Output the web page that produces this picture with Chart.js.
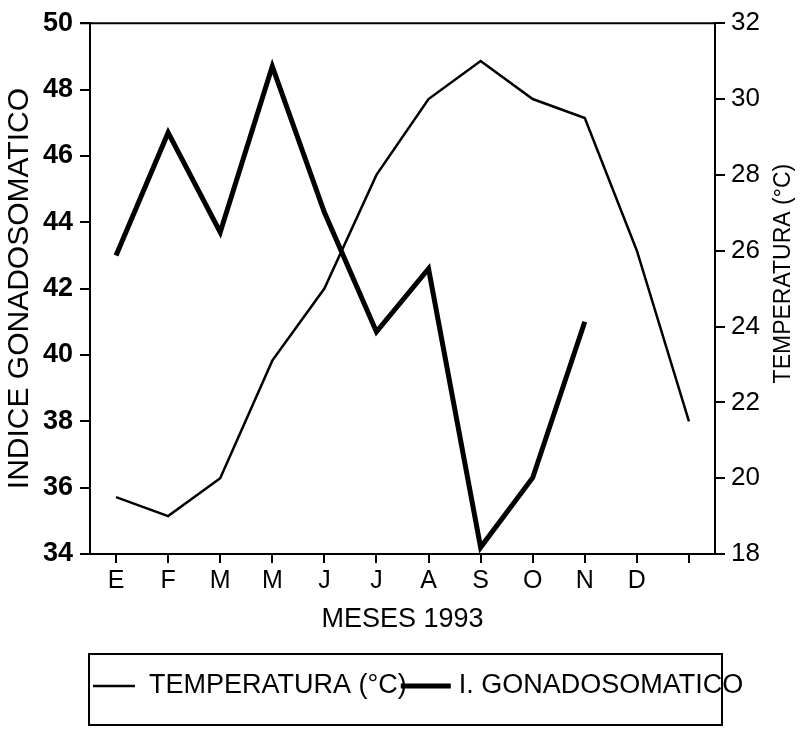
<!DOCTYPE html>
<html><head><meta charset="utf-8">
<script src="https://cdn.jsdelivr.net/npm/chart.js@4.4.1/dist/chart.umd.min.js"></script>
<style>html,body{margin:0;padding:0;background:#fff;}#wrap{width:801px;height:735px;position:relative;}</style>
</head><body><div id="wrap"><canvas id="c" width="801" height="735"></canvas></div>
<script>
const months = ['E','F','M','M','J','J','A','S','O','N','D',''];
const temperatura = [19.5,19.0,20.0,23.1,25.0,28.0,30.0,31.0,30.0,29.5,26.0,21.5];
const gonadosomatico = [43.0,46.7,43.7,48.7,44.3,40.7,42.6,34.2,36.3,41.0,null,null];
const leftTicks = [34,36,38,40,42,44,46,48,50];
const rightTicks = [18,20,22,24,26,28,30,32];
const labelTemp = 'TEMPERATURA (°C)';
const labelIgs = 'I. GONADOSOMATICO';
const FF = "'Liberation Sans', Arial, sans-serif";

const framePlugin = {
  id: 'frame',
  afterDraw(chart) {
    const ctx = chart.ctx, a = chart.chartArea;
    ctx.save();
    ctx.strokeStyle = '#000';
    ctx.lineWidth = 2;
    ctx.beginPath();
    ctx.moveTo(a.left - 10, a.top);
    ctx.lineTo(a.right, a.top);
    ctx.stroke();
    // right axis title, reading bottom to top
    ctx.fillStyle = '#000';
    ctx.font = '23px ' + FF;
    ctx.textAlign = 'center';
    ctx.textBaseline = 'middle';
    ctx.translate(784, (a.top + a.bottom) / 2 - 15);
    ctx.rotate(-Math.PI / 2);
    ctx.fillText(labelTemp, 0, 0);
    ctx.restore();

    // legend box
    ctx.save();
    ctx.strokeStyle = '#000';
    ctx.lineWidth = 2;
    ctx.strokeRect(89, 654, 722 - 89, 725 - 654);
    const ds = chart.data.datasets;
    const ly = 686;
    ctx.font = '27px ' + FF;
    ctx.fillStyle = '#000';
    ctx.textBaseline = 'middle';
    ctx.textAlign = 'left';
    let x = 93;
    ctx.lineWidth = ds[0].borderWidth;
    ctx.beginPath(); ctx.moveTo(x, ly); ctx.lineTo(x + 42, ly); ctx.stroke();
    x += 42 + 14;
    ctx.fillText(ds[0].label, x, ly);
    x += ctx.measureText(ds[0].label).width - 6;
    ctx.lineWidth = ds[1].borderWidth;
    ctx.beginPath(); ctx.moveTo(x, ly); ctx.lineTo(x + 50, ly); ctx.stroke();
    x += 50 + 8;
    ctx.fillText(ds[1].label, x, ly);
    ctx.restore();
  }
};

new Chart(document.getElementById('c'), {
  type: 'line',
  data: {
    labels: months,
    datasets: [
      { label: labelTemp, data: temperatura, yAxisID: 'y1', borderColor: '#000', backgroundColor: '#000', borderWidth: 2.5, pointRadius: 0, tension: 0, fill: false },
      { label: labelIgs, data: gonadosomatico, yAxisID: 'y', borderColor: '#000', backgroundColor: '#000', borderWidth: 5, pointRadius: 0, tension: 0, fill: false }
    ]
  },
  options: {
    responsive: false,
    animation: false,
    devicePixelRatio: 1,
    layout: { padding: { top: 22, bottom: 95, left: 0, right: 0 } },
    plugins: { legend: { display: false }, tooltip: { enabled: false } },
    scales: {
      x: {
        type: 'category',
        offset: true,
        grid: { display: true, offset: false, drawOnChartArea: false, drawTicks: true, tickLength: 9, color: '#000', lineWidth: 2 },
        border: { display: true, color: '#000', width: 2 },
        ticks: { color: '#000', font: { family: FF, size: 25 }, padding: 3, autoSkip: false, maxRotation: 0, minRotation: 0 },
        title: { display: true, text: 'MESES 1993', color: '#000', font: { family: FF, size: 27 }, padding: { top: 4, bottom: 4 } },
        afterFit(s) { s.height = 86; }
      },
      y: {
        position: 'left',
        min: leftTicks[0], max: leftTicks[leftTicks.length - 1],
        afterBuildTicks(s) { s.ticks = leftTicks.map(v => ({ value: v })); },
        grid: { display: true, drawOnChartArea: false, drawTicks: true, tickLength: 10, color: '#000', lineWidth: 2 },
        border: { display: true, color: '#000', width: 2 },
        ticks: { color: '#000', font: { family: FF, size: 27, weight: 'bold' }, padding: 7 },
        title: { display: true, text: 'INDICE GONADOSOMATICO', color: '#000', font: { family: FF, size: 30 }, padding: { top: 2, bottom: 2 } },
        afterFit(s) { s.width = 90; }
      },
      y1: {
        position: 'right',
        min: rightTicks[0], max: rightTicks[rightTicks.length - 1],
        afterBuildTicks(s) { s.ticks = rightTicks.map(v => ({ value: v })); },
        grid: { display: true, drawOnChartArea: false, drawTicks: true, tickLength: 10, color: '#000', lineWidth: 2 },
        border: { display: true, color: '#000', width: 2 },
        ticks: { color: '#000', font: { family: FF, size: 26 }, padding: 6 },
        title: { display: false },
        afterFit(s) { s.width = 86; }
      }
    }
  },
  plugins: [framePlugin]
});
</script></body></html>
